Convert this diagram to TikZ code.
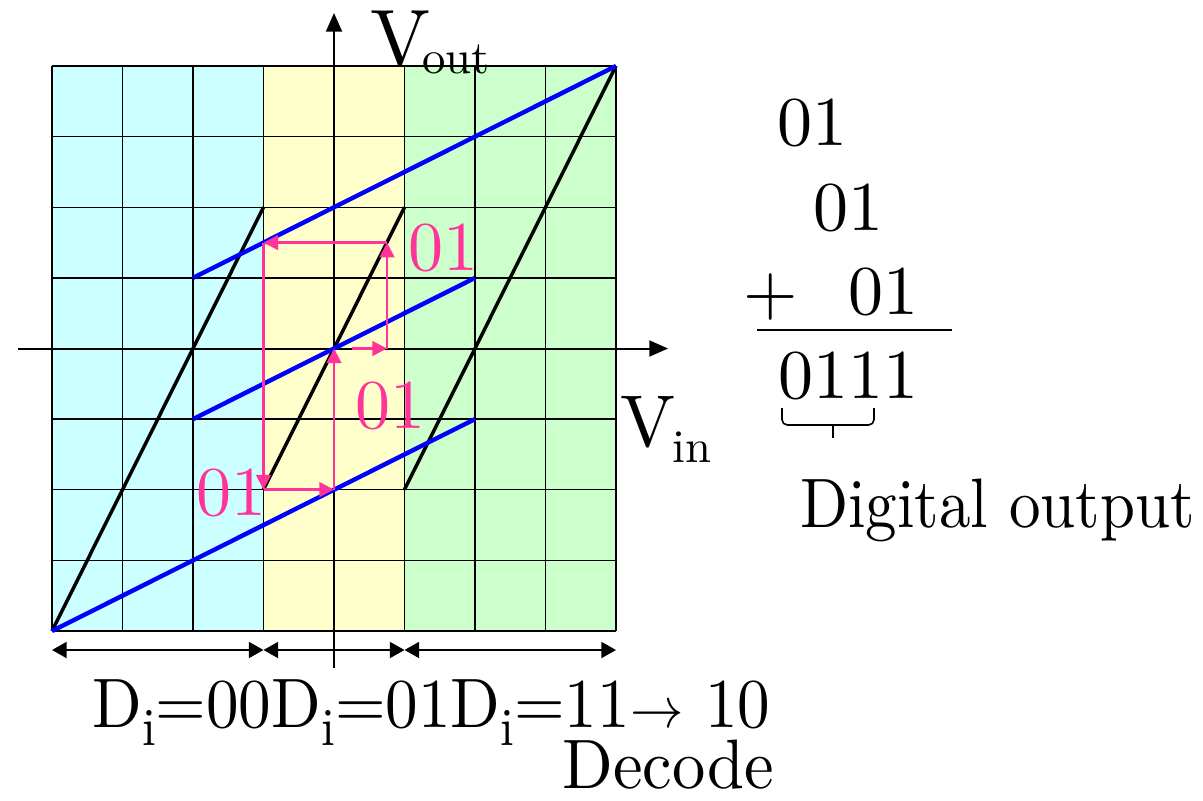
\documentclass[tikz,border=0pt]{standalone}
\usepackage{fontspec}
\setmainfont{lmroman10-regular}[Extension=.otf]
\usetikzlibrary{arrows.meta}
\definecolor{cyfill}{HTML}{CCFFFF}
\definecolor{yefill}{HTML}{FFFFCC}
\definecolor{grfill}{HTML}{CCFFCC}
\definecolor{pinkc}{HTML}{FF3399}
\definecolor{bluec}{HTML}{0000FF}
\newcommand\mysubi{\raisebox{-13.5pt}{\fontsize{40}{40}\selectfont i}}
\newcommand\myarrow{{\fontsize{10}{10}\selectfont\scalebox{4.3}{$\rightarrow$}}}
\newcommand\narrow[2]{\scalebox{#1}[1]{#2}}
\begin{document}
\begin{tikzpicture}[x=0.75pt,y=-0.75pt,
  gridline/.style={line width=1.1pt,black},
  axisline/.style={line width=1.5pt,black,-{Triangle[length=14pt,width=12pt]}},
  dimline/.style={line width=1.5pt,black,{Triangle[length=11pt,width=12pt]}-{Triangle[length=11pt,width=12pt]}},
  blackline/.style={line width=2.6pt,black},
  blueline/.style={line width=3.3pt,bluec},
  pinkarrow/.style={line width=1.8pt,pinkc,-{Triangle[length=11pt,width=11pt]}},
  txt/.style={inner sep=0pt,anchor=base west,font=\fontsize{52.5}{60}\selectfont},
  pinktxt/.style={txt,text=pinkc}]
\useasboundingbox (0,0) rectangle (1203,800);
% backgrounds
\fill[cyfill] (52,66) rectangle (263.5,631);
\fill[yefill] (263.5,66) rectangle (404.5,631);
\fill[grfill] (404.5,66) rectangle (616,631);
% grid
\foreach \i in {0,...,8}{
  \draw[gridline] ({52+70.5*\i},66) -- ({52+70.5*\i},631);
  \draw[gridline] (52,{66+70.625*\i}) -- (616,{66+70.625*\i});
}
% axes
\coordinate (ybot) at (334,668);
\coordinate (ytop) at (334,13);
\coordinate (xl) at (18,348.5);
\coordinate (xr) at (668,348.5);
\draw[axisline] (ybot) -- (ytop);
\draw[axisline] (xl) -- (xr);
% transfer lines
\coordinate (p0) at (52,631);
\coordinate (b1) at (263.5,207.25);
\coordinate (b2s) at (263.5,489.6);
\coordinate (b2e) at (404.5,207.25);
\coordinate (b3s) at (404.5,489.6);
\coordinate (b3e) at (616,66);
\draw[blackline] (p0) -- (b1);
\draw[blackline] (b2s) -- (b2e);
\draw[blackline] (b3s) -- (b3e);
\coordinate (u1e) at (475,419.1);
\coordinate (u2s) at (193,419.1);
\coordinate (u2e) at (475,277.9);
\coordinate (u3s) at (193,277.9);
\draw[blueline] (p0) -- (u1e);
\draw[blueline] (u2s) -- (u2e);
\draw[blueline] (u3s) -- (b3e);
% pink path
\coordinate (A) at (263.5,242.6);
\coordinate (B) at (263.5,489.6);
\coordinate (C) at (334,489.6);
\coordinate (O) at (334,348.5);
\coordinate (Es) at (352,348.5);
\coordinate (E) at (387,348.5);
\coordinate (F) at (387,242.6);
\draw[pinkarrow] (A) -- (B);
\draw[pinkarrow] (B) -- (C);
\draw[pinkarrow] (C) -- (O);
\draw[pinkarrow] (Es) -- (E);
\draw[pinkarrow] (E) -- (F);
\draw[pinkarrow] (F) -- (A);
\node[pinktxt] (l1) at (196,515) {01};
\node[pinktxt] (l2) at (355,428) {01};
\node[pinktxt] (l3) at (408,270) {01};
% axis labels
\node[txt] (vout) at (370,65) {{\fontsize{60}{60}\selectfont V}\kern-6pt\raisebox{-6pt}{\fontsize{35}{35}\selectfont out}};
\node[txt] (vin) at (620,446) {{\fontsize{55}{60}\selectfont V}\kern-2pt\raisebox{-12pt}{\fontsize{35}{35}\selectfont in}};
% dimension arrows
\coordinate (d0) at (52,650);
\coordinate (d1) at (263.5,650);
\coordinate (d2) at (404.5,650);
\coordinate (d3) at (616,650);
\draw[dimline] (d0) -- (d1);
\draw[dimline] (d1) -- (d2);
\draw[dimline] (d2) -- (d3);
\node[txt] (dlab) at (92,727) {\narrow{0.93}{D\mysubi=00D\mysubi=01D\mysubi=11\myarrow\ 10}};
\node[txt] (dec) at (562,788) {\narrow{0.95}{Decode}};
% addition
\node[txt] (s1) at (777,145) {01};
\node[txt] (s2) at (813,230) {01};
\node[txt] (plus) at (743,314) {+};
\node[txt] (s3) at (848,314) {01};
\coordinate (ll) at (757,330);
\coordinate (lr) at (952,330);
\draw[line width=1.3pt] (ll) -- (lr);
\node[txt] (sum) at (778,398) {0111};
\coordinate (br1) at (782,408);
\coordinate (br2) at (874,408);
\coordinate (brm) at (833,425);
\coordinate (brt) at (833,438);
\draw[line width=1.2pt,rounded corners=4pt] (br1) -- (782,425) -- (874,425) -- (br2);
\draw[line width=1.2pt] (brm) -- (brt);
\node[txt] (dout) at (800,527) {\narrow{0.90}{Digital output}};
\end{tikzpicture}
\end{document}
